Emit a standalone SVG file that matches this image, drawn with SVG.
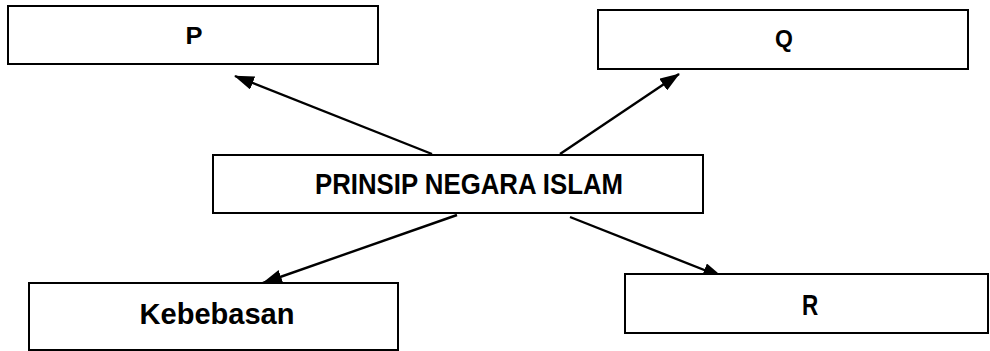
<svg xmlns="http://www.w3.org/2000/svg" width="990" height="351" viewBox="0 0 990 351">
<style>
.box{fill:#fff;stroke:#000;stroke-width:2}
.t{font-family:"Liberation Sans",Arial,sans-serif;font-weight:bold;fill:#000;text-anchor:middle}
.c{stroke:#000;stroke-width:2.4;fill:none;marker-end:url(#ah)}
</style>
<defs>
<marker id="ah" viewBox="0 0 10 10" refX="9.5" refY="5" markerWidth="20" markerHeight="14" markerUnits="userSpaceOnUse" orient="auto" preserveAspectRatio="none">
<path d="M0,0 L10,5 L0,10 z" fill="#000"/>
</marker>
</defs>
<rect width="990" height="351" fill="#fff"/>
<g id="connectors">
<line class="c" x1="432" y1="154" x2="235" y2="76"/>
<line class="c" x1="560" y1="154" x2="679" y2="74"/>
<line class="c" x1="457" y1="215" x2="263" y2="283"/>
<line class="c" x1="570" y1="217" x2="722" y2="277"/>
</g>
<g id="P">
<rect class="box" x="8" y="6" width="370" height="58"/>
<text class="t" x="194" y="44" font-size="23" textLength="17" lengthAdjust="spacingAndGlyphs">P</text>
</g>
<g id="Q">
<rect class="box" x="598" y="10" width="370" height="59"/>
<text class="t" x="784" y="47" font-size="23">Q</text>
</g>
<g id="center">
<rect class="box" x="213" y="155" width="490" height="58"/>
<text class="t" x="469" y="194" font-size="30" textLength="308" lengthAdjust="spacingAndGlyphs">PRINSIP NEGARA ISLAM</text>
</g>
<g id="Kebebasan">
<rect class="box" x="29" y="283" width="369" height="67"/>
<text class="t" x="217" y="324" font-size="30" textLength="155" lengthAdjust="spacingAndGlyphs">Kebebasan</text>
</g>
<g id="R">
<rect class="box" x="625" y="274" width="363" height="59"/>
<text x="0" y="0" font-size="30" font-weight="bold" font-family="'Liberation Sans',Arial,sans-serif" text-anchor="middle" transform="translate(810,315) scale(0.75,1)">R</text>
</g>
</svg>
